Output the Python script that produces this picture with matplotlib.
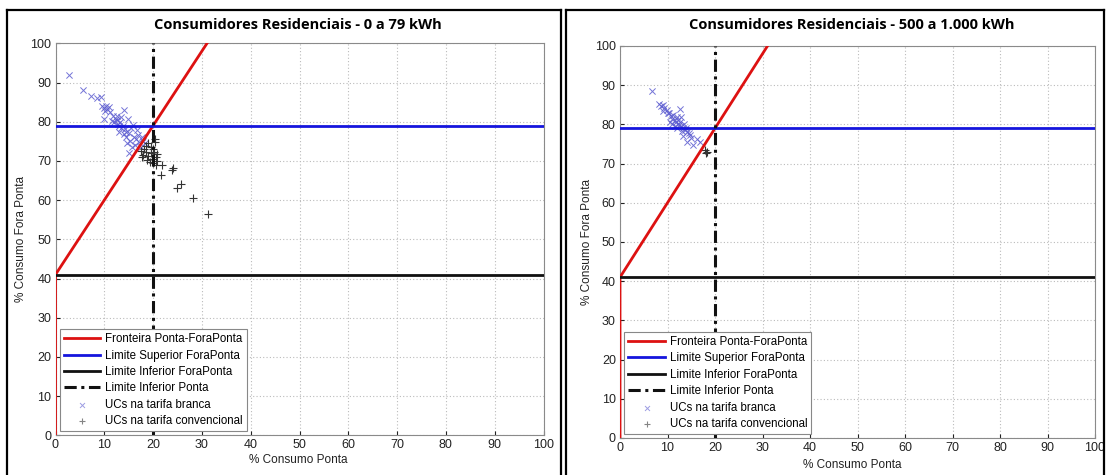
import matplotlib
matplotlib.use("Agg")
import matplotlib.pyplot as plt
from matplotlib.lines import Line2D
import numpy as np

# ---------------- data ----------------
titles = ["Consumidores Residenciais - 0 a 79 kWh",
          "Consumidores Residenciais - 500 a 1.000 kWh"]
ticks = [0, 10, 20, 30, 40, 50, 60, 70, 80, 90, 100]

fronteira_x = [0, 0, 31.05]
fronteira_y = [0, 41, 100]
lim_sup_fora = 79
lim_inf_fora = 41
lim_inf_ponta = 20

left_branca_x = [2.8, 5.6, 7.3, 8.6, 9.3, 9.6, 10.0, 10.3, 10.6, 11.0, 10.2, 11.2, 10.0, 12.3,
                 12.6, 14.0, 14.8, 11.8, 12.0, 12.8, 13.2, 13.5, 13.8, 14.2, 14.5, 13.0, 14.0,
                 15.0, 15.5, 16.0, 15.2, 14.6, 16.5, 17.0, 17.8, 16.2, 15.0, 17.5, 18.3, 12.5,
                 13.5, 11.5, 15.8, 16.8, 14.4, 18.0, 17.2, 15.6, 13.0]
left_branca_y = [92.0, 88.2, 86.5, 86.0, 86.2, 84.0, 83.5, 84.0, 83.2, 83.8, 82.8, 82.5, 80.7, 80.8,
                 80.4, 83.0, 80.7, 81.5, 79.8, 79.5, 80.0, 78.5, 79.0, 78.2, 77.5, 78.8, 76.8,
                 77.0, 78.5, 76.0, 75.2, 74.5, 75.5, 76.5, 76.0, 74.0, 72.0, 73.5, 74.5, 81.5,
                 81.2, 80.2, 79.2, 77.8, 76.0, 75.2, 74.8, 73.5, 77.5]
left_conv_x = [17.5, 18.0, 18.5, 19.0, 19.5, 20.0, 20.3, 19.8, 20.5, 18.8, 19.3, 20.0, 20.8, 17.8,
               18.2, 19.6, 20.2, 20.6, 19.0, 20.4, 21.8, 21.7, 23.8, 24.0, 24.8, 25.8, 28.2,
               31.2, 20.9, 18.6]
left_conv_y = [72.5, 71.5, 73.8, 74.5, 72.0, 73.0, 74.8, 70.5, 71.0, 70.2, 69.8, 69.5, 70.0, 71.0,
               73.0, 73.5, 72.2, 69.0, 71.2, 75.5, 69.0, 66.5, 67.8, 68.3, 63.0, 64.2, 60.5,
               56.5, 71.8, 72.2]

right_branca_x = [6.7, 8.3, 8.6, 9.0, 9.3, 9.0, 9.8, 10.0, 10.4, 10.8, 11.0, 11.2, 11.5, 11.8,
                  12.0, 12.2, 12.5, 12.3, 12.7, 12.9, 13.2, 13.4, 12.6, 13.6, 13.8, 14.2, 14.5,
                  14.8, 13.0, 11.6, 10.6, 12.0, 15.0, 16.2, 16.8, 15.3, 14.0, 13.3, 11.0, 12.8]
right_branca_y = [88.4, 85.3, 84.8, 85.0, 84.2, 83.5, 83.8, 82.8, 83.0, 82.2, 81.5, 82.5, 81.0, 80.5,
                  81.8, 80.2, 79.8, 81.2, 80.6, 79.5, 79.0, 80.0, 84.0, 78.5, 79.2, 78.0, 77.8,
                  77.2, 78.2, 79.5, 80.5, 79.0, 76.5, 76.2, 75.6, 74.8, 75.5, 77.0, 80.0, 82.0]
right_conv_x = [17.9, 18.3, 18.0]
right_conv_y = [73.5, 73.0, 72.8]

legend_labels = ["Fronteira Ponta-ForaPonta", "Limite Superior ForaPonta",
                 "Limite Inferior ForaPonta", "Limite Inferior Ponta",
                 "UCs na tarifa branca", "UCs na tarifa convencional"]

# ---------------- figure ----------------
plt.rcParams['font.family'] = ['Liberation Sans', 'DejaVu Sans']
W, H = 1107, 475
fig = plt.figure(figsize=(W / 100, H / 100), dpi=100)
fig.patch.set_facecolor("white")


def px_rect(x0, x1, ytop, ybot):
    return [x0 / W, (H - ybot) / H, (x1 - x0) / W, (ybot - ytop) / H]


panels = [
    dict(rect=px_rect(55.5, 543.5, 43.3, 435.3), bx=left_branca_x, by=left_branca_y,
         cx=left_conv_x, cy=left_conv_y, title=titles[0], tx=298, ty=25, xlx=298, xly=460,
         ylx=21),
    dict(rect=px_rect(620, 1095, 46, 438), bx=right_branca_x, by=right_branca_y,
         cx=right_conv_x, cy=right_conv_y, title=titles[1], tx=852, ty=25, xlx=852, xly=465,
         ylx=587),
]

for p in panels:
    ax = fig.add_axes(p["rect"])
    ax.set_xlim(0, 100)
    ax.set_ylim(0, 100)
    ax.set_xticks(ticks)
    ax.set_yticks(ticks)
    ax.tick_params(direction="in", length=3, labelsize=9, colors="#222222", pad=3)
    for s in ax.spines.values():
        s.set_color("#8a8a8a")
        s.set_linewidth(0.8)
    ax.grid(True, linestyle=(0, (1, 2)), color="#bbbbbb", linewidth=0.8)
    ax.set_axisbelow(True)

    l1, = ax.plot(fronteira_x, fronteira_y, color="#dd1111", lw=2.0, zorder=4)
    l2 = ax.axhline(lim_sup_fora, color="#1515dd", lw=2.0, zorder=4)
    l3 = ax.axhline(lim_inf_fora, color="#111111", lw=2.0, zorder=4)
    l4 = ax.axvline(lim_inf_ponta, color="#111111", lw=2.2, linestyle=(0, (4, 1.5, 1, 1.5)),
                    zorder=4)
    s1 = ax.scatter(p["bx"], p["by"], marker="x", s=20, color="#5c5cd0", linewidths=0.7,
                    alpha=0.85, zorder=3)
    s2 = ax.scatter(p["cx"], p["cy"], marker="+", s=32, color="#333333", linewidths=0.8,
                    zorder=3)

    leg = ax.legend([l1, l2, l3, l4, s1, s2], legend_labels, loc="lower left",
                    fontsize=8.3, frameon=True, fancybox=False, framealpha=1.0,
                    borderpad=0.35, labelspacing=0.38, handlelength=3.2,
                    handletextpad=0.4, borderaxespad=0.35, markerscale=0.8)
    leg.get_frame().set_edgecolor("#888888")
    leg.get_frame().set_linewidth(0.8)
    leg.set_zorder(6)
    for h in leg.legend_handles[4:]:
        h.set_alpha(0.6)

    ymid = p["rect"][1] + p["rect"][3] / 2
    fig.text(p["tx"] / W, 1 - p["ty"] / H, p["title"], ha="center", va="center",
             fontsize=10.5, fontweight="bold", family=["Open Sans", "DejaVu Sans"])
    fig.text(p["xlx"] / W, 1 - p["xly"] / H, "% Consumo Ponta", ha="center", va="center",
             fontsize=8.5, color="#222222")
    fig.text(p["ylx"] / W, ymid, "% Consumo Fora Ponta",
             ha="center", va="center", rotation=90, fontsize=8.5, color="#222222")

# panel borders (screenshot frames)
def fline(x0, y0, x1, y1, lw=1.6):
    fig.add_artist(Line2D([x0 / W, x1 / W], [1 - y0 / H, 1 - y1 / H], color="black",
                          lw=lw, transform=fig.transFigure))

fline(7, 10, 7, 475)
fline(7, 10, 561, 10)
fline(561, 10, 561, 475)
fline(566, 10, 566, 475)
fline(566, 10, 1104, 10)
fline(1104, 10, 1104, 475)

fig.savefig("out.png", dpi=100)
